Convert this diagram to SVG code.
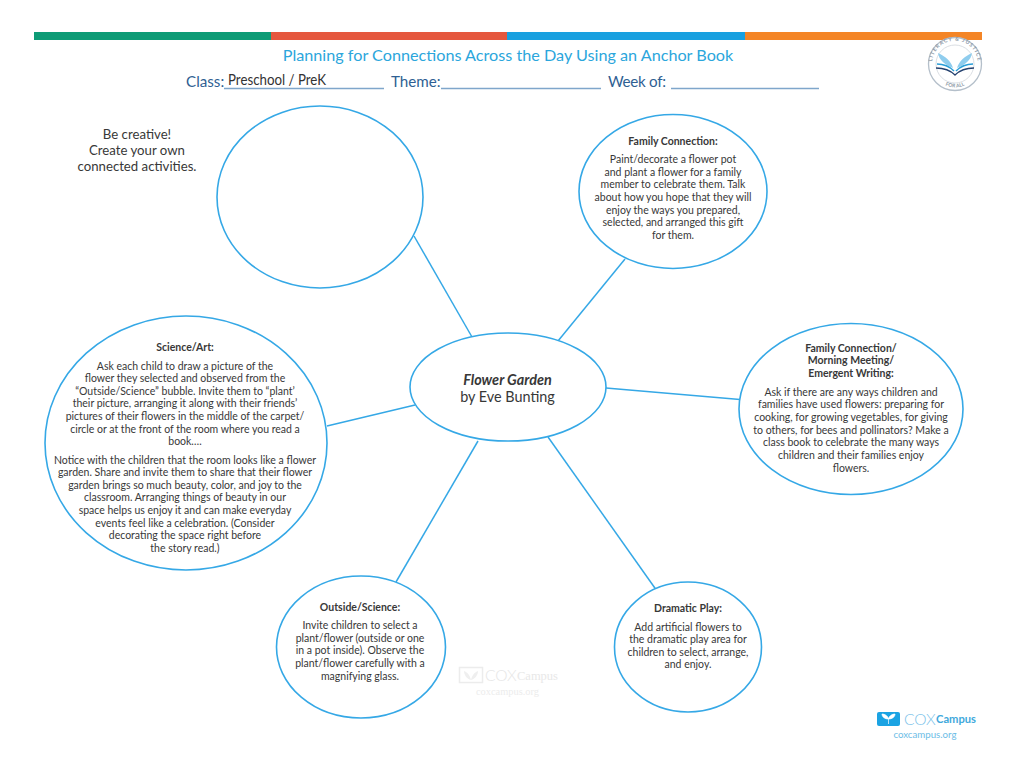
<svg xmlns="http://www.w3.org/2000/svg" width="1024" height="775" viewBox="0 0 1024 775">
<style>
text{font-family:Lato,"Open Sans","Liberation Sans",sans-serif;fill:#383838}
.b{font-size:10.500px;text-anchor:middle}
.h{font-size:10.500px;font-weight:700;text-anchor:middle}
.n{fill:#fff;stroke:#35a8e6;stroke-width:1.600}
.c{stroke:#35a8e6;stroke-width:1.500;fill:none}
.u{stroke:#7fa6cb;stroke-width:1.300}
.f{font-size:15.200px;fill:#2f5f93}
.t{font-size:13.200px;text-anchor:middle}
.m{font-size:14.400px;text-anchor:middle}
</style>
<rect width="1024" height="775" fill="#fff"/>
<g id="header">
<rect x="34" y="32" width="237" height="8" fill="#0e9b76"/>
<rect x="271" y="32" width="236" height="8" fill="#e5573e"/>
<rect x="507" y="32" width="238" height="8" fill="#18a0e0"/>
<rect x="745" y="32" width="237" height="8" fill="#f48526"/>
<text x="508" y="60.500" text-anchor="middle" style="font-size:16.200px;fill:#2ba6dc">Planning for Connections Across the Day Using an Anchor Book</text>
<text x="186" y="87" class="f">Class:</text>
<text x="228" y="85" textLength="98" lengthAdjust="spacingAndGlyphs" style="font-size:14.400px;fill:#333">Preschool / PreK</text>
<line x1="224" y1="88.500" x2="384" y2="88.500" class="u"/>
<text x="391" y="87" class="f">Theme:</text>
<line x1="441" y1="88.500" x2="601" y2="88.500" class="u"/>
<text x="608" y="87" class="f" textLength="58">Week of:</text>
<line x1="671" y1="88.500" x2="819" y2="88.500" class="u"/>
</g>
<g id="logo">
<defs><path id="arcT" d="M934 73A23 23 0 1 1 976 73"/><path id="arcB" d="M938 80A23.300 23.300 0 0 0 972 80"/></defs>
<circle cx="955" cy="64" r="26.500" fill="#fff" stroke="#b4bfca" stroke-width="1.300"/>
<circle cx="955" cy="64" r="19" fill="#fff" stroke="#d0d6dc" stroke-width="0.800"/>
<text style="font-size:5.200px;fill:#8c98a6;font-weight:700;letter-spacing:1px"><textPath href="#arcT" startOffset="50%" text-anchor="middle">LITERACY &amp; JUSTICE</textPath></text>
<text style="font-size:5px;fill:#8c98a6;font-weight:700"><textPath href="#arcB" startOffset="50%" text-anchor="middle">FOR ALL</textPath></text>
<path d="M953 68C951 61 945 56 938 53C939 60 945 65 953 68Z" fill="#8fcdee"/>
<path d="M957 68C959 61 965 56 972 53C971 60 965 65 957 68Z" fill="#8fcdee"/>
<path d="M937 64C944 64 950 67 954 71M973 64C966 64 960 67 956 71" fill="none" stroke="#2a9ed8" stroke-width="1.600"/>
<path d="M936 68C944 68 950 70 955 75C960 70 966 68 974 68" fill="none" stroke="#24406e" stroke-width="1.300"/>
</g>
<g id="connectors">
<line x1="414" y1="236" x2="472" y2="337" class="c"/>
<line x1="625" y1="259" x2="558" y2="341" class="c"/>
<line x1="606" y1="388" x2="740" y2="399.500" class="c"/>
<line x1="548" y1="437" x2="657" y2="591" class="c"/>
<line x1="478" y1="441" x2="396" y2="582" class="c"/>
<line x1="415" y1="405" x2="327" y2="426" class="c"/>
</g>
<g id="note">
<text x="137" y="139" class="t">Be creative!</text>
<text x="137" y="155" class="t">Create your own</text>
<text x="137" y="171" class="t">connected activities.</text>
</g>
<g id="node-blank"><ellipse cx="320" cy="197" rx="103" ry="91" class="n"/></g>
<g id="node-family">
<ellipse cx="673" cy="191.500" rx="94" ry="77" class="n"/>
<text x="673" y="145" class="h">Family Connection:</text>
<text x="673" y="163" class="b">Paint/decorate a flower pot</text>
<text x="673" y="176" class="b">and plant a flower for a family</text>
<text x="673" y="188" class="b">member to celebrate them. Talk</text>
<text x="673" y="201" class="b">about how you hope that they will</text>
<text x="673" y="214" class="b">enjoy the ways you prepared,</text>
<text x="673" y="226" class="b">selected, and arranged this gift</text>
<text x="673" y="239" class="b">for them.</text>
</g>
<g id="node-center">
<ellipse cx="508" cy="387" rx="98" ry="54" class="n"/>
<text x="507.500" y="385" class="m" style="font-style:italic;font-weight:700">Flower Garden</text>
<text x="507.500" y="402" class="m">by Eve Bunting</text>
</g>
<g id="node-morning">
<ellipse cx="851" cy="409" rx="112" ry="85.500" class="n"/>
<text x="851" y="352" class="h">Family Connection/</text>
<text x="851" y="364" class="h">Morning Meeting/</text>
<text x="851" y="377" class="h">Emergent Writing:</text>
<text x="851" y="396" class="b">Ask if there are any ways children and</text>
<text x="851" y="408" class="b">families have used flowers: preparing for</text>
<text x="851" y="421" class="b">cooking, for growing vegetables, for giving</text>
<text x="851" y="434" class="b">to others, for bees and pollinators? Make a</text>
<text x="851" y="446" class="b">class book to celebrate the many ways</text>
<text x="851" y="459" class="b">children and their families enjoy</text>
<text x="851" y="472" class="b">flowers.</text>
</g>
<g id="node-science">
<ellipse cx="186" cy="443" rx="141" ry="127" class="n"/>
<text x="185" y="351" class="h">Science/Art:</text>
<text x="185" y="370" class="b">Ask each child to draw a picture of the</text>
<text x="185" y="382" class="b">flower they selected and observed from the</text>
<text x="185" y="395" class="b">“Outside/Science” bubble. Invite them to “plant’</text>
<text x="185" y="407" class="b">their picture, arranging it along with their friends’</text>
<text x="185" y="420" class="b">pictures of their flowers in the middle of the carpet/</text>
<text x="185" y="433" class="b">circle or at the front of the room where you read a</text>
<text x="185" y="445" class="b">book….</text>
<text x="185" y="464" class="b">Notice with the children that the room looks like a flower</text>
<text x="185" y="476" class="b">garden. Share and invite them to share that their flower</text>
<text x="185" y="489" class="b">garden brings so much beauty, color, and joy to the</text>
<text x="185" y="501" class="b">classroom. Arranging things of beauty in our</text>
<text x="185" y="514" class="b">space helps us enjoy it and can make everyday</text>
<text x="185" y="527" class="b">events feel like a celebration. (Consider</text>
<text x="185" y="539" class="b">decorating the space right before</text>
<text x="185" y="552" class="b">the story read.)</text>
</g>
<g id="node-outside">
<ellipse cx="361" cy="647" rx="84.500" ry="71" class="n"/>
<text x="360" y="611" class="h">Outside/Science:</text>
<text x="360" y="629" class="b">Invite children to select a</text>
<text x="360" y="642" class="b">plant/flower (outside or one</text>
<text x="360" y="654" class="b">in a pot inside). Observe the</text>
<text x="360" y="667" class="b">plant/flower carefully with a</text>
<text x="360" y="680" class="b">magnifying glass.</text>
</g>
<g id="node-dramatic">
<ellipse cx="688" cy="647" rx="73.500" ry="65" class="n"/>
<text x="688" y="612" class="h">Dramatic Play:</text>
<text x="688" y="631" class="b">Add artificial flowers to</text>
<text x="688" y="643" class="b">the dramatic play area for</text>
<text x="688" y="656" class="b">children to select, arrange,</text>
<text x="688" y="668" class="b">and enjoy.</text>
</g>
<g id="watermark">
<rect x="459.500" y="667.500" width="23" height="15" fill="none" stroke="#ececec" stroke-width="1.500"/>
<path d="M471 680C470 675 467 672 464 671C464 675 467 679 471 680C475 679 478 675 478 671C475 672 472 675 471 680Z" fill="#efefef"/>
<text x="485" y="681" style="font-size:15.500px;fill:#e6e6e6;font-weight:300">COX</text>
<text x="517" y="680" textLength="41" lengthAdjust="spacingAndGlyphs" style="font-family:'Liberation Serif',serif;font-size:12.500px;fill:#e8e8e8">Campus</text>
<text x="476" y="695" textLength="63" lengthAdjust="spacingAndGlyphs" style="font-family:'Liberation Serif',serif;font-size:10.500px;fill:#ececec">coxcampus.org</text>
</g>
<g id="brand">
<rect x="877" y="712" width="23" height="14" rx="2" fill="#1ba3e3"/>
<path d="M888.500 724V719M888.500 719C888 716 885 714 882 714C882 717 885 719 888.500 719C892 719 895 717 895 714C892 714 889 716 888.500 719Z" fill="#fff" stroke="#fff" stroke-width=".7"/>
<text x="904" y="724.500" style="font-size:15.500px;fill:#7cc3ea;font-weight:300">COX</text>
<text x="936" y="723" textLength="40" lengthAdjust="spacingAndGlyphs" style="font-size:11.500px;fill:#3fa9dc;font-weight:700">Campus</text>
<text x="925" y="738" text-anchor="middle" style="font-size:9.700px;fill:#6dbde6">coxcampus.org</text>
</g>
</svg>
